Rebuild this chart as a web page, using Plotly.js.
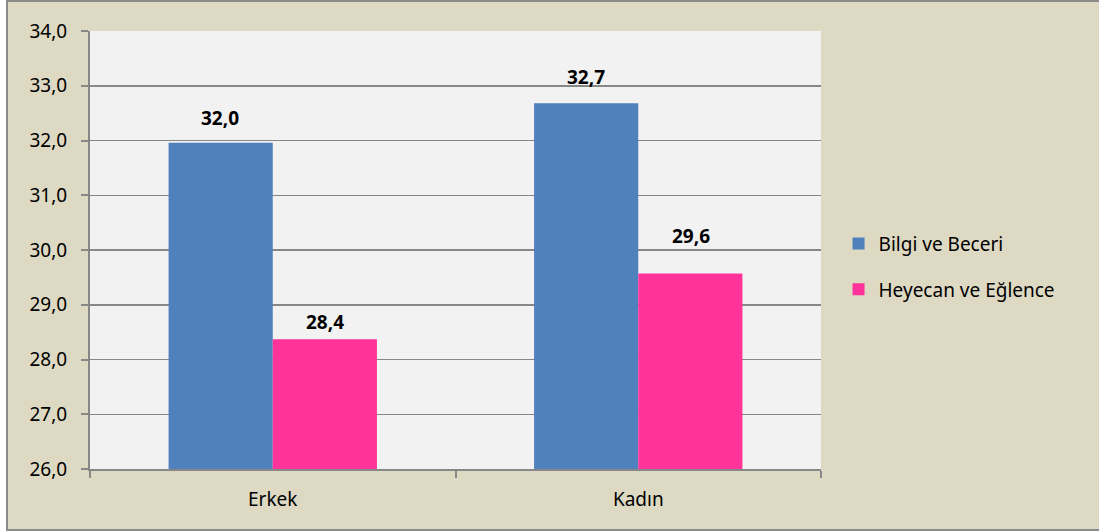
<!DOCTYPE html>
<html>
<head>
<meta charset="utf-8">
<script src="https://cdn.plot.ly/plotly-3.0.1.min.js"></script>
<style>
  html, body { margin:0; padding:0; background:#ffffff; overflow:hidden; }
  #frame { position:absolute; left:6px; top:0px; width:1100px; height:527px; border:2px solid #8c8c8c; border-right:none; background:#DDD9C3; }
  #chart { width:1100px; height:527px; }
</style>
</head>
<body>
<div id="frame"><div id="chart"></div></div>
<script>
const categories = ["Erkek", "Kadın"];
const seriesNames = ["Bilgi ve Beceri", "Heyecan ve Eğlence"];
const bilgiVeBeceri = [31.96, 32.68];
const heyecanVeEglence = [28.37, 29.57];
const yTicks = [26, 27, 28, 29, 30, 31, 32, 33, 34];

// style only: vertical offsets (px) of the value labels above each bar
const labelOffsets = [[25, 26], [17, 38]];
const colors = ["#4F81BD", "#FF3399"];
const allSeries = [bilgiVeBeceri, heyecanVeEglence];

const FONT = "Noto Sans, Open Sans, sans-serif";
const FS = 19;

const traces = allSeries.map((vals, i) => ({
  type: "bar",
  name: seriesNames[i],
  x: categories,
  y: vals.map(v => v - 26),
  base: 26,
  marker: { color: colors[i], line: { width: 0 } },
  legendgroup: "g" + i,
  hoverinfo: "skip"
}));

const annotations = [];
allSeries.forEach((vals, i) => {
  vals.forEach((v, j) => {
    annotations.push({
      x: categories[j], y: v, xref: "x", yref: "y",
      text: "<b>" + (Math.round(v * 10) / 10).toFixed(1).replace(".", ",") + "</b>",
      showarrow: false,
      xshift: (i === 0 ? -1 : 1) * 52.5,
      yshift: labelOffsets[i][j],
      font: { family: FONT, size: FS, color: "#000000" }
    });
  });
});

const layout = {
  width: 1100, height: 527,
  margin: { l: 82, r: 287, t: 29, b: 60 },
  paper_bgcolor: "#DDD9C3",
  plot_bgcolor: "#F2F2F2",
  barmode: "group",
  bargap: 0.43,
  bargroupgap: 0,
  font: { family: FONT, size: FS, color: "#000000" },
  xaxis: {
    type: "category",
    showline: true, linecolor: "#878787", linewidth: 2,
    ticks: "outside", tickson: "boundaries", ticklen: 7, tickcolor: "#878787", tickwidth: 2,
    showgrid: false, zeroline: false,
    ticklabelstandoff: 12,
    tickfont: { family: FONT, size: FS }
  },
  yaxis: {
    range: [26, 34],
    tickvals: yTicks,
    ticktext: yTicks.map(t => t.toFixed(1).replace(".", ",")),
    showline: true, linecolor: "#878787", linewidth: 2,
    ticks: "outside", ticklen: 7, tickcolor: "#878787", tickwidth: 2,
    showgrid: true, gridcolor: "#878787", gridwidth: 1.5,
    zeroline: false,
    ticklabelstandoff: 10,
    tickfont: { family: FONT, size: FS }
  },
  legend: {
    x: 1.024, xanchor: "left", y: 0.462, yanchor: "middle",
    bgcolor: "rgba(0,0,0,0)",
    font: { family: FONT, size: FS },
    traceorder: "grouped", tracegroupgap: 18,
    itemwidth: 30
  },
  annotations: annotations,
  showlegend: true
};

Plotly.newPlot("chart", traces, layout, { displayModeBar: false, staticPlot: true });
</script>
</body>
</html>
